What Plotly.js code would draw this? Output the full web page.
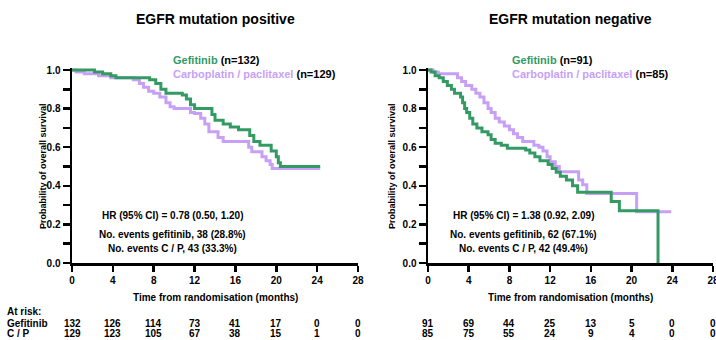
<!DOCTYPE html>
<html>
<head>
<meta charset="utf-8">
<script src="https://cdn.plot.ly/plotly-3.0.1.min.js"></script>
<style>html,body{margin:0;padding:0;background:#fff;}#chart{width:716px;height:340px;}</style>
</head>
<body>
<div id="chart"></div>
<script>
// ---------- DATA ----------
const xTicks = [0, 4, 8, 12, 16, 20, 24, 28];

// EGFR mutation positive
const posGefTime = [0, 2.2, 3.0, 3.8, 4.3, 7.6, 8.2, 8.7, 9.2, 10.8, 11.2, 11.6, 12.0, 13.7, 14.0, 14.8, 15.5, 16.3, 17.4, 17.8, 18.4, 19.5, 20.0, 20.2, 20.4, 24.3];
const posGefSurv = [1.0, 0.99, 0.98, 0.97, 0.96, 0.95, 0.93, 0.90, 0.88, 0.87, 0.85, 0.82, 0.80, 0.77, 0.74, 0.72, 0.705, 0.69, 0.66, 0.63, 0.61, 0.58, 0.55, 0.52, 0.50, 0.50];
const posCpTime  = [0, 0.4, 1.2, 2.6, 3.8, 6.0, 6.6, 7.0, 7.5, 8.0, 8.6, 9.2, 9.6, 10.0, 11.6, 12.0, 12.6, 13.0, 13.4, 14.3, 14.8, 17.3, 17.6, 18.6, 19.0, 19.4, 19.6, 24.3];
const posCpSurv  = [1.0, 0.99, 0.98, 0.97, 0.96, 0.95, 0.93, 0.91, 0.89, 0.88, 0.86, 0.83, 0.81, 0.80, 0.78, 0.775, 0.75, 0.72, 0.68, 0.65, 0.63, 0.60, 0.577, 0.55, 0.53, 0.51, 0.49, 0.49];

// EGFR mutation negative
const negGefTime = [0, 0.3, 0.7, 1.1, 1.5, 1.9, 2.3, 2.6, 3.2, 3.4, 3.6, 3.8, 4.1, 4.4, 4.8, 5.3, 5.9, 6.2, 6.6, 7.2, 7.8, 9.6, 10.0, 10.5, 11.0, 11.8, 12.2, 12.6, 13.0, 13.6, 14.2, 14.7, 18.0, 18.8, 22.6];
const negGefSurv = [1.0, 0.99, 0.97, 0.96, 0.94, 0.92, 0.90, 0.88, 0.86, 0.83, 0.80, 0.78, 0.75, 0.72, 0.70, 0.68, 0.665, 0.64, 0.62, 0.61, 0.595, 0.585, 0.57, 0.55, 0.53, 0.51, 0.49, 0.47, 0.45, 0.43, 0.40, 0.367, 0.318, 0.271, 0.0];
const negCpTime  = [0, 0.5, 1.0, 2.9, 3.3, 3.7, 4.3, 4.7, 5.1, 5.5, 5.9, 6.2, 6.6, 7.0, 7.5, 8.0, 8.4, 8.8, 9.3, 10.4, 10.9, 11.3, 11.7, 12.0, 12.5, 12.9, 14.8, 15.2, 15.6, 20.5, 23.9];
const negCpSurv  = [1.0, 0.99, 0.98, 0.96, 0.94, 0.92, 0.90, 0.88, 0.86, 0.83, 0.80, 0.78, 0.75, 0.73, 0.71, 0.69, 0.67, 0.65, 0.63, 0.61, 0.60, 0.58, 0.55, 0.525, 0.50, 0.473, 0.43, 0.405, 0.36, 0.266, 0.266];

// At-risk numbers
const posRiskGef = [132, 126, 114, 73, 41, 17, 0, 0];
const posRiskCp  = [129, 123, 105, 67, 38, 15, 1, 0];
const negRiskGef = [91, 69, 44, 25, 13, 5, 0, 0];
const negRiskCp  = [85, 75, 55, 24, 9, 4, 0, 0];

// Texts
const titles = ["EGFR mutation positive", "EGFR mutation negative"];
const nGef = ["n=132", "n=91"];
const nCp = ["n=129", "n=85"];
const hrText = ["HR (95% CI) = 0.78 (0.50, 1.20)", "HR (95% CI) = 1.38 (0.92, 2.09)"];
const evGef = ["No. events gefitinib, 38 (28.8%)", "No. events gefitinib, 62 (67.1%)"];
const evCp = ["No. events C / P, 43 (33.3%)", "No. events C / P, 42 (49.4%)"];

// ---------- STYLE ----------
const GREEN = "#349a64";
const PURPLE = "#c7a0f6";
const W = 716, H = 340;
const FF = "Liberation Sans, Arial, sans-serif";
const px = x => x / W;
const py = y => 1 - y / H;

function line(x, y, color, xa, ya) {
  return {x: x, y: y, type: "scatter", mode: "lines", line: {shape: "hv", color: color, width: 3},
          xaxis: xa, yaxis: ya, hoverinfo: "skip", showlegend: false};
}

const traces = [
  line(posCpTime, posCpSurv, PURPLE, "x", "y"),
  line(posGefTime, posGefSurv, GREEN, "x", "y"),
  line(negCpTime, negCpSurv, PURPLE, "x2", "y2"),
  line(negGefTime, negGefSurv, GREEN, "x2", "y2")
];

const yTop = 1.012;
const yDomain = [(H - 263) / H, (H - (263 - 193 * yTop)) / H];

function xAxis(domain, anchor) {
  return {domain: domain, anchor: anchor, range: [0, 28], tickvals: xTicks, ticktext: xTicks.map(String),
          showline: true, linecolor: "#000", linewidth: 2.5, ticks: "outside", ticklen: 6, tickwidth: 2.5,
          tickcolor: "#000", showgrid: false, zeroline: false, fixedrange: true, ticklabeloverflow: "allow",
          tickfont: {family: FF, size: 10, color: "#000", weight: 700}};
}
function yAxis(anchor) {
  return {domain: yDomain, anchor: anchor, range: [0, yTop], tickvals: [0, 0.2, 0.4, 0.6, 0.8, 1.0],
          tickformat: ".1f", showline: true, linecolor: "#000", linewidth: 2.5, ticks: "outside", ticklen: 7,
          tickwidth: 2.5, tickcolor: "#000", showgrid: false, zeroline: false, fixedrange: true,
          minor: {tickvals: [0.1, 0.3, 0.5, 0.7, 0.9], ticks: "outside", ticklen: 7, tickwidth: 2.5, tickcolor: "#000", showgrid: false},
          tickfont: {family: FF, size: 10, color: "#000", weight: 700}};
}

const ann = [];
function txt(text, x, y, opts) {
  ann.push(Object.assign({text: text, x: px(x), y: py(y), xref: "paper", yref: "paper", showarrow: false,
    xanchor: "center", yanchor: "middle", font: {family: FF, size: 10, color: "#000", weight: 700}}, opts || {}));
}

// panel geometry (pixels)
const panels = [{x0: 72, x1: 358, xa: "x"}, {x0: 428, x1: 713, xa: "x2"}];
const legendLeft = [171, 510];
const hrCenter = [172, 523];
const yTitleX = [43, 392];

for (let i = 0; i < 2; i++) {
  const p = panels[i];
  const cx = (p.x0 + p.x1) / 2;
  txt(titles[i], cx, 19, {font: {family: FF, size: 14, color: "#000", weight: 700}});
  txt('<span style="color:' + GREEN + '">Gefitinib</span> (' + nGef[i] + ')', legendLeft[i], 60, {xanchor: "left", font: {family: FF, size: 11, color: "#000", weight: 700}});
  txt('<span style="color:' + PURPLE + '">Carboplatin / paclitaxel</span> (' + nCp[i] + ')', legendLeft[i], 74, {xanchor: "left", font: {family: FF, size: 11, color: "#000", weight: 700}});
  txt(hrText[i], hrCenter[i], 215);
  txt(evGef[i], hrCenter[i], 234);
  txt(evCp[i], hrCenter[i], 248);
  txt("Probability of overall survival", yTitleX[i], 166, {textangle: -90, font: {family: FF, size: 9, color: "#000", weight: 700}});
  txt("Time from randomisation (months)", cx, 297);
}

const rowY = [323, 333];
txt("At risk:", 5, 311, {xanchor: "left"});
txt("Gefitinib", 5, rowY[0], {xanchor: "left"});
txt("C / P", 5, rowY[1], {xanchor: "left"});

function riskRow(vals, xa, y) {
  for (let k = 0; k < xTicks.length; k++) {
    ann.push({text: String(vals[k]), x: xTicks[k], xref: xa, y: py(y), yref: "paper", showarrow: false,
      xanchor: "center", yanchor: "middle", font: {family: FF, size: 10, color: "#000", weight: 700}});
  }
}
riskRow(posRiskGef, "x", rowY[0]);
riskRow(posRiskCp, "x", rowY[1]);
riskRow(negRiskGef, "x2", rowY[0]);
riskRow(negRiskCp, "x2", rowY[1]);

const layout = {
  width: W, height: H, autosize: false,
  margin: {l: 0, r: 0, t: 0, b: 0, pad: 0},
  paper_bgcolor: "#fff", plot_bgcolor: "#fff",
  showlegend: false,
  xaxis: xAxis([px(72), px(358)], "y"),
  yaxis: yAxis("x"),
  xaxis2: xAxis([px(428), px(713)], "y2"),
  yaxis2: yAxis("x2"),
  annotations: ann
};

Plotly.newPlot("chart", traces, layout, {staticPlot: true, displayModeBar: false});
</script>
</body>
</html>
